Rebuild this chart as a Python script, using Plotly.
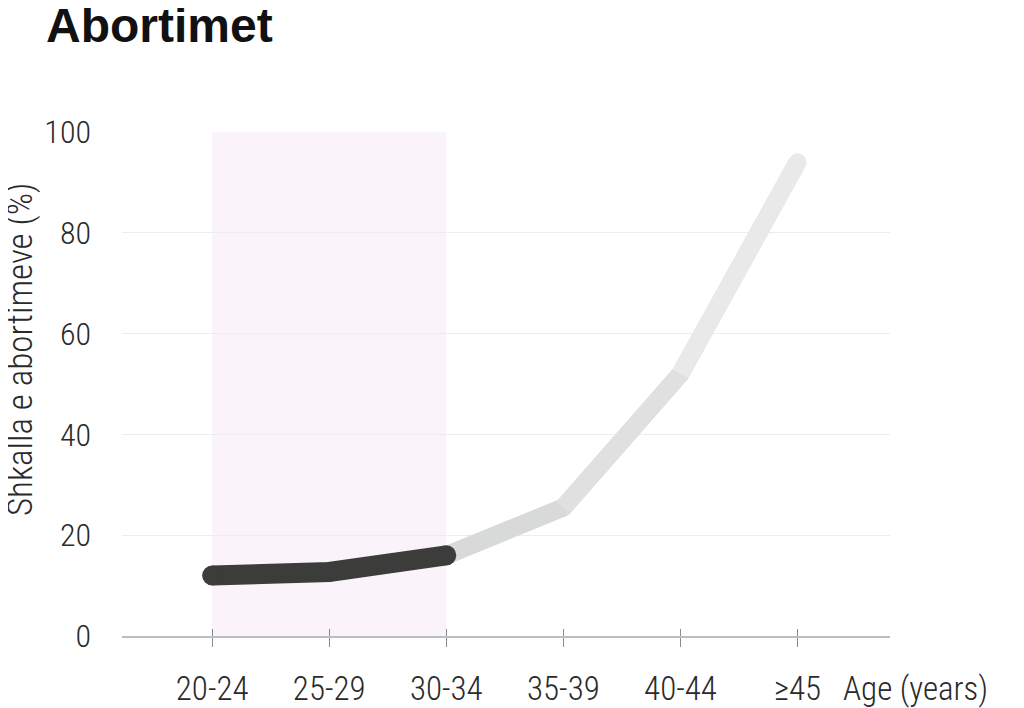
import plotly.graph_objects as go

# ---- data ----
age_groups = ["20-24", "25-29", "30-34", "35-39", "40-44", "≥45"]
abortion_rate = [12, 12.7, 16, 25.5, 52, 94]
highlight_groups = ["20-24", "30-34"]   # shaded band (start, end)
y_ticks = [0, 20, 40, 60, 80, 100]

title_text = "Abortimet"
y_title = "Shkalla e abortimeve (%)"
x_title = "Age (years)"

# ---- styles ----
FONT = "Roboto Condensed, Liberation Sans Narrow, DejaVu Sans Condensed, Arial Narrow, sans-serif"
dark = "#3c3c3b"
light_seg_colors = ["#d8dad9", "#dfe0df", "#e9e9e9"]
light_base = "#dddedd"
band_color = "#faf3fa"

# plot area in figure pixels (page adds an 8px body offset)
L, R, T, B = 114, 882, 124, 628
W, H = 1016, 700
PW, PH = R - L, B - T

fig = go.Figure()

# light base line (30-34 onward)
fig.add_trace(go.Scatter(
    x=age_groups[2:], y=abortion_rate[2:], mode="lines",
    line=dict(color=light_base, width=18), hoverinfo="skip", showlegend=False))

# gradient-like segments
for i, c in enumerate(light_seg_colors):
    xs = age_groups[2 + i:4 + i]
    ys = abortion_rate[2 + i:4 + i]
    fig.add_trace(go.Scatter(
        x=xs, y=ys, mode="lines", line=dict(color=c, width=18),
        hoverinfo="skip", showlegend=False))

# rounded end cap at last point
fig.add_trace(go.Scatter(
    x=age_groups[-1:], y=abortion_rate[-1:], mode="markers",
    marker=dict(color=light_seg_colors[-1], size=18, line=dict(width=0)),
    hoverinfo="skip", showlegend=False, cliponaxis=False))

# dark highlighted segment
fig.add_trace(go.Scatter(
    x=age_groups[:3], y=abortion_rate[:3], mode="lines+markers",
    line=dict(color=dark, width=20),
    marker=dict(color=dark, size=20, line=dict(width=0)),
    hoverinfo="skip", showlegend=False, cliponaxis=False))

# dummy trace for tick-crossing overlay axis
fig.add_trace(go.Scatter(
    x=age_groups, y=abortion_rate, xaxis="x2", mode="lines",
    line=dict(width=0, color="rgba(0,0,0,0)"), hoverinfo="skip", showlegend=False))

fig.add_shape(type="rect", xref="x", yref="y",
              x0=highlight_groups[0], x1=highlight_groups[1], y0=0, y1=100,
              fillcolor=band_color, line=dict(width=0), layer="below")

fig.update_layout(
    width=W, height=H,
    margin=dict(l=L, r=W - R, t=T, b=H - B, autoexpand=False),
    paper_bgcolor="white", plot_bgcolor="white",
    font=dict(family=FONT, size=33, color="#2a2a2a", weight=300),
    title=dict(text="<b>" + title_text + "</b>", x=38 / W, xanchor="left", xref="container",
               y=1.0, yanchor="top", yref="container",
               font=dict(family="Liberation Sans, Arial, Helvetica, sans-serif", size=48,
                         color="#111111", weight=700)),
    xaxis=dict(type="category", categoryarray=age_groups, categoryorder="array",
               range=[-0.77, 5.79], showgrid=False, zeroline=False, automargin=False,
               showline=True, linecolor="#bdbdbd", linewidth=1.5,
               ticks="outside", ticklen=9, tickcolor="#8a8a8a", tickwidth=1.3,
               ticklabelstandoff=14, tickfont=dict(size=33)),
    xaxis2=dict(type="category", categoryarray=age_groups, categoryorder="array",
                overlaying="x", matches="x", side="bottom", anchor="y", automargin=False,
                range=[-0.77, 5.79], showgrid=False, zeroline=False, showline=False,
                ticks="inside", ticklen=7, tickcolor="#8a8a8a", tickwidth=1.3,
                showticklabels=False),
    yaxis=dict(range=[0, 100], tickvals=y_ticks, showgrid=True, gridcolor="#ededed",
               gridwidth=1, zeroline=False, showline=False, ticks="", automargin=False,
               ticklabelstandoff=30, tickfont=dict(size=32)),
    annotations=[
        dict(text=y_title, xref="paper", yref="paper", x=(12 - L) / PW, y=(B - 342) / PH,
             xanchor="center", yanchor="middle", textangle=-90, showarrow=False,
             font=dict(size=35)),
        dict(text=x_title, xref="paper", yref="paper", x=(907 - L) / PW, y=-(680 - B) / PH,
             xanchor="center", yanchor="middle", showarrow=False,
             font=dict(size=33)),
    ],
)

fig.write_html("out.html")
